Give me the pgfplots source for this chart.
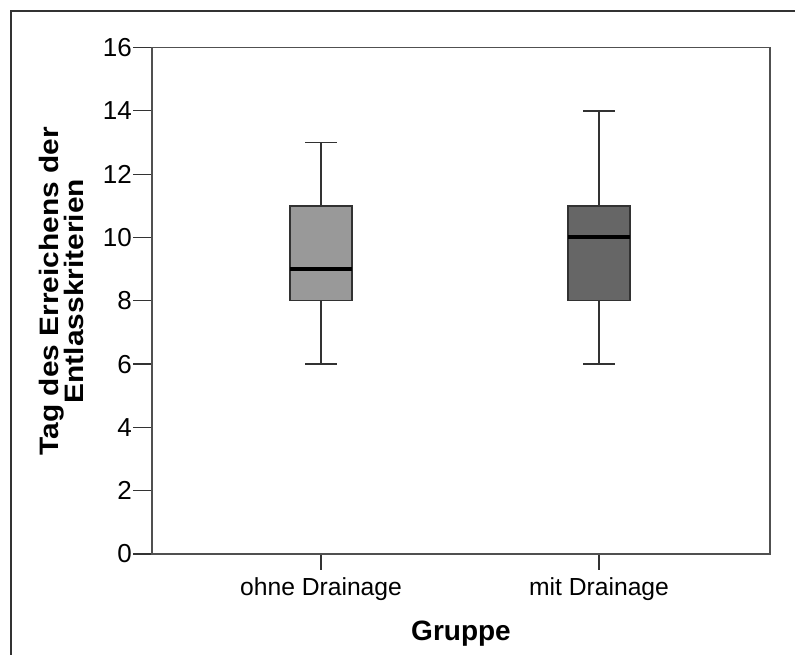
\documentclass[border=0pt]{standalone}
\usepackage{fontspec}
\setmainfont{Liberation Sans}
\usepackage{pgfplots}
\pgfplotsset{compat=1.18}
\definecolor{boxA}{RGB}{153,153,153}
\definecolor{boxB}{RGB}{102,102,102}
\definecolor{edgec}{RGB}{50,50,50}
\definecolor{axl}{RGB}{80,80,80}
\begin{document}
\begin{tikzpicture}
\fill[white] (-114pt,-75.75pt) rectangle (482.25pt,415.5pt);
\useasboundingbox (-114pt,-75.75pt) rectangle (482.25pt,415.5pt);
\draw[line width=1pt, color=black!80] (-105.75pt,-78.75pt) -- (-105.75pt,407.25pt) -- (487.5pt,407.25pt);
\begin{axis}[
  at={(0pt,0pt)}, anchor=south west,
  scale only axis,
  width=463.5pt, height=379.875pt,
  xmin=0.392, xmax=2.615,
  ymin=0, ymax=16,
  ytick={0,2,4,6,8,10,12,14,16},
  xtick={1,2},
  xticklabels={ohne Drainage, mit Drainage},
  xtick pos=bottom, ytick pos=left,
  tick align=outside,
  major tick length=14pt,
  xtick style={/pgfplots/major tick length=12pt},
  tick style={color=black!80, line width=0.9pt},
  axis line style={color=axl, line width=1.4pt},
  /pgf/number format/assume math mode=true,
  yticklabel style={font=\fontsize{19.5}{20}\selectfont, inner sep=1pt},
  xticklabel style={font=\fontsize{18.5}{20}\selectfont},
  xlabel={Gruppe},
  xlabel style={font=\bfseries\fontsize{21}{22}\selectfont, at={(axis description cs:0.5,-0.1698)}, anchor=base},
  ylabel={Tag des Erreichens der\\Entlasskriterien},
  ylabel style={font=\bfseries\fontsize{20}{19}\selectfont, align=center, at={(axis description cs:-0.1464,0.519)}, anchor=center, xscale=1.12},
  clip=false,
]
% ohne Drainage: min 6, Q1 8, median 9, Q3 11, max 13
\addplot[edgec, line width=1.1pt] coordinates {(1,6) (1,8)};
\addplot[edgec, line width=1.1pt] coordinates {(1,11) (1,13)};
\addplot[edgec, line width=1.1pt] coordinates {(0.944,6) (1.056,6)};
\addplot[edgec, line width=1.1pt] coordinates {(0.944,13) (1.056,13)};
\addplot[fill=boxA, draw=edgec, line width=1.1pt] coordinates {(0.8885,8) (1.1115,8) (1.1115,11) (0.8885,11)} -- cycle;
\addplot[black, line width=3pt] coordinates {(0.8885,9) (1.1115,9)};
% mit Drainage: min 6, Q1 8, median 10, Q3 11, max 14
\addplot[edgec, line width=1.1pt] coordinates {(2,6) (2,8)};
\addplot[edgec, line width=1.1pt] coordinates {(2,11) (2,14)};
\addplot[edgec, line width=1.1pt] coordinates {(1.944,6) (2.056,6)};
\addplot[edgec, line width=1.1pt] coordinates {(1.944,14) (2.056,14)};
\addplot[fill=boxB, draw=edgec, line width=1.1pt] coordinates {(1.8885,8) (2.1115,8) (2.1115,11) (1.8885,11)} -- cycle;
\addplot[black, line width=3pt] coordinates {(1.8885,10) (2.1115,10)};
\end{axis}
\end{tikzpicture}
\end{document}
